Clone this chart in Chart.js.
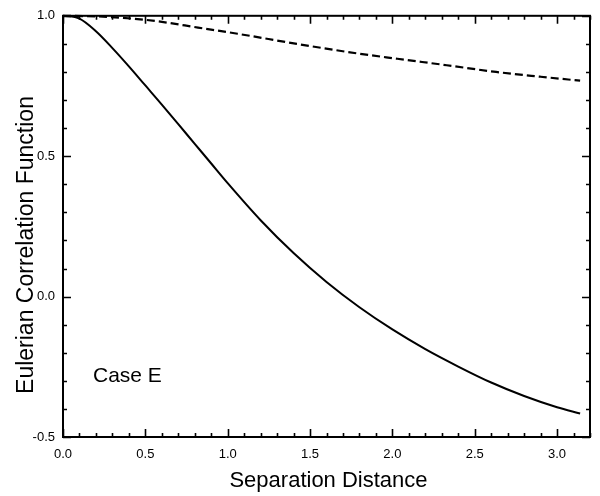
<!DOCTYPE html>
<html>
<head>
<meta charset="utf-8">
<script src="https://cdn.jsdelivr.net/npm/chart.js@4.4.1/dist/chart.umd.min.js"></script>
<style>
  html, body { margin: 0; padding: 0; background: #fff; }
  #wrap { width: 600px; height: 496px; position: relative; }
</style>
</head>
<body>
<div id="wrap"><canvas id="chart"></canvas></div>
<script>
// Solid curve: Eulerian correlation vs separation distance
const solidDist = [0, 0.1, 0.2, 0.3, 0.4, 0.5, 0.6, 0.7, 0.8, 0.9, 1.0, 1.2, 1.4, 1.6, 1.8, 2.0, 2.2, 2.4, 2.6, 2.8, 3.0, 3.14];
const solidCorr = [1.0, 0.99, 0.945, 0.885, 0.82, 0.752, 0.684, 0.614, 0.544, 0.474, 0.404, 0.272, 0.155, 0.052, -0.038, -0.117, -0.187, -0.249, -0.306, -0.354, -0.394, -0.416];

// Dashed curve
const dashedDist = [0, 0.2, 0.42, 0.58, 0.82, 1.06, 1.42, 1.73, 2.03, 2.33, 2.63, 2.9, 3.14];
const dashedCorr = [1.0, 0.998, 0.99, 0.98, 0.958, 0.936, 0.90, 0.871, 0.847, 0.824, 0.80, 0.783, 0.769];

// Axes
const xTickLabels = ["0.0", "0.5", "1.0", "1.5", "2.0", "2.5", "3.0"];
const yTickLabels = ["-0.5", "0.0", "0.5", "1.0"];
const xRange = [0, 3.2];
const yRange = [-0.5, 1.0];
const minorStep = 0.1;

const xTitle = "Separation Distance";
const yTitle = "Eulerian Correlation Function";
const caseLabel = "Case E";

const FONT = "'Liberation Sans', Arial, Helvetica, sans-serif";

const toPoints = (xs, ys) => xs.map((x, i) => ({ x, y: ys[i] }));

// every 0.1 gets a tick mark, only the labelled ones get text
function minorTicks(scale) {
  const ticks = [];
  const n = Math.round((scale.max - scale.min) / minorStep);
  for (let i = 0; i <= n; i++) {
    ticks.push({ value: +(scale.min + i * minorStep).toFixed(1) });
  }
  scale.ticks = ticks;
}

const isMajor = (v, labels) => labels.includes(v.toFixed(1));

// frame, inward ticks on all four sides, and free text
const framePlugin = {
  id: "frame",
  afterDraw(chart) {
    const { ctx, chartArea: a, scales } = chart;
    ctx.save();
    ctx.strokeStyle = "#000";
    ctx.lineWidth = 2;
    ctx.strokeRect(a.left, a.top, a.right - a.left, a.bottom - a.top);

    ctx.lineWidth = 1.6;
    ctx.beginPath();
    scales.x.ticks.forEach(t => {
      const px = Math.round(scales.x.getPixelForValue(t.value)) + 0.5;
      const len = isMajor(t.value, xTickLabels) ? 8 : 4;
      ctx.moveTo(px, a.bottom); ctx.lineTo(px, a.bottom - len);
      ctx.moveTo(px, a.top); ctx.lineTo(px, a.top + len);
    });
    scales.y.ticks.forEach(t => {
      const py = Math.round(scales.y.getPixelForValue(t.value)) + 0.5;
      const len = isMajor(t.value, yTickLabels) ? 8 : 4;
      ctx.moveTo(a.left, py); ctx.lineTo(a.left + len, py);
      ctx.moveTo(a.right, py); ctx.lineTo(a.right - len, py);
    });
    ctx.stroke();

    ctx.fillStyle = "#000";
    ctx.font = `22px ${FONT}`;
    ctx.textAlign = "center";
    ctx.textBaseline = "alphabetic";
    ctx.fillText(xTitle, (a.left + a.right) / 2 + 2, 487);

    ctx.save();
    ctx.translate(33, 245);
    ctx.rotate(-Math.PI / 2);
    ctx.font = `23px ${FONT}`;
    ctx.fillText(yTitle, 0, 0);
    ctx.restore();

    ctx.textAlign = "left";
    ctx.font = `21px ${FONT}`;
    ctx.fillText(caseLabel, 93, 382);
    ctx.restore();
  }
};

new Chart(document.getElementById("chart"), {
  type: "scatter",
  data: {
    datasets: [
      {
        label: "solid",
        data: toPoints(solidDist, solidCorr),
        showLine: true,
        borderColor: "#000",
        borderWidth: 2,
        pointRadius: 0,
        cubicInterpolationMode: "monotone",
        clip: false,
      },
      {
        label: "dashed",
        data: toPoints(dashedDist, dashedCorr),
        showLine: true,
        borderColor: "#000",
        borderWidth: 2.2,
        borderDash: [8, 4],
        pointRadius: 0,
        cubicInterpolationMode: "monotone",
        clip: false,
      },
    ],
  },
  options: {
    animation: false,
    responsive: true,
    maintainAspectRatio: false,
    layout: { padding: { top: 13, right: 5, left: 0, bottom: 0 } },
    plugins: { legend: { display: false }, tooltip: { enabled: false } },
    scales: {
      x: {
        type: "linear",
        min: xRange[0],
        max: xRange[1],
        afterBuildTicks: minorTicks,
        afterFit: s => { s.height = 59; },
        grid: { display: false, drawTicks: false },
        border: { display: false },
        ticks: {
          autoSkip: false,
          maxRotation: 0,
          padding: 10,
          color: "#000",
          font: { family: FONT, size: 13 },
          callback: v => (isMajor(v, xTickLabels) ? v.toFixed(1) : ""),
        },
      },
      y: {
        type: "linear",
        min: yRange[0],
        max: yRange[1],
        afterBuildTicks: minorTicks,
        afterFit: s => { s.width = 63; },
        grid: { display: false, drawTicks: false },
        border: { display: false },
        ticks: {
          autoSkip: false,
          padding: 8,
          color: "#000",
          font: { family: FONT, size: 13 },
          callback: v => (isMajor(v, yTickLabels) ? v.toFixed(1) : ""),
        },
      },
    },
  },
  plugins: [framePlugin],
});
</script>
</body>
</html>
